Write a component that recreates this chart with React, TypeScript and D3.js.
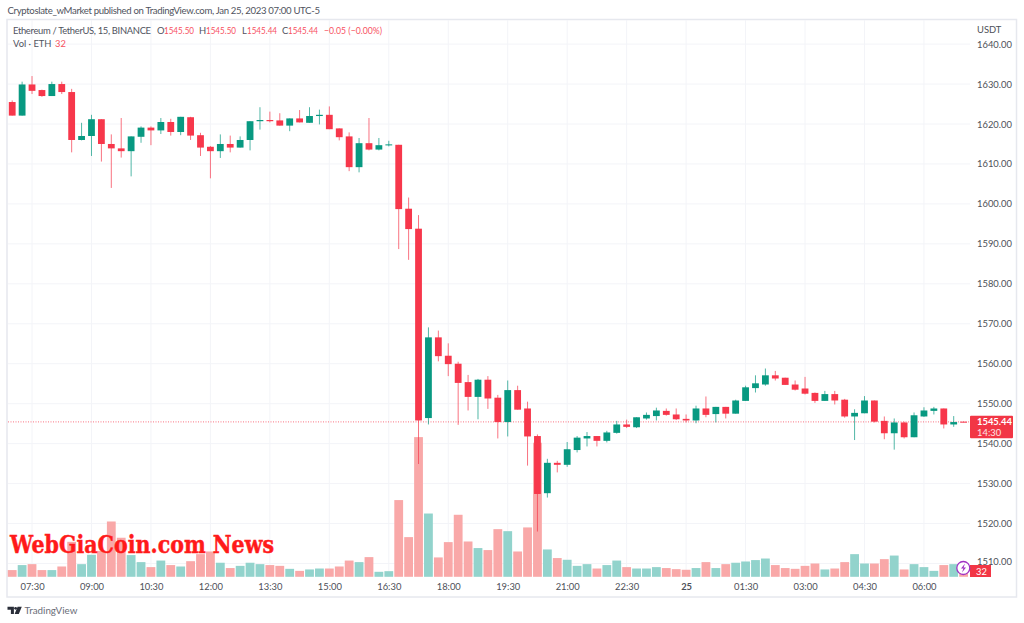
import React, { useRef, useEffect } from 'react';
import * as d3 from 'd3';

// ETHUSDT 15m candles
const opens = [1625.5, 1622.1, 1629.9, 1628.5, 1627, 1630, 1628, 1616, 1617, 1621.2, 1615, 1613.9, 1613.2, 1616.8, 1619.1, 1618.4, 1620.5, 1618, 1621.7, 1617.2, 1614.3, 1613.2, 1615, 1614.1, 1616, 1620.7, 1621, 1620.9, 1619.6, 1621.4, 1620.3, 1622, 1622.3, 1618.9, 1616.9, 1609.2, 1615.2, 1613.6, 1614.7, 1614.8, 1598.8, 1593.8, 1546.4, 1566.6, 1562, 1560, 1555.4, 1551.7, 1556, 1551.5, 1545.4, 1553.4, 1548.8, 1541.9, 1527.6, 1535.2, 1534.7, 1538.4, 1541.3, 1541.9, 1540.7, 1542.7, 1544.8, 1544.1, 1546.3, 1546.9, 1548.2, 1547.3, 1546.2, 1545.8, 1548.8, 1547.4, 1549.2, 1547.5, 1550.7, 1553.9, 1554.8, 1557.1, 1556.5, 1554.8, 1553.8, 1552.7, 1550.7, 1552.4, 1551, 1546.8, 1547.6, 1550.8, 1545.7, 1542.6, 1545.3, 1541.6, 1546.8, 1548.2, 1548.8, 1544.8, 1545.5];
const closes = [1622.1, 1629.9, 1628.3, 1627, 1630, 1628, 1616, 1617, 1621.2, 1615, 1613.9, 1613.2, 1616.9, 1619.1, 1618.4, 1620.5, 1618, 1621.8, 1617.1, 1614.1, 1613.2, 1615, 1614.1, 1616, 1620.7, 1621, 1620.7, 1619.6, 1621.4, 1620.4, 1622, 1622.3, 1618.7, 1616.7, 1609.2, 1615.2, 1613.6, 1614.7, 1614.9, 1598.7, 1593.7, 1545.8, 1566.6, 1561.9, 1559.9, 1555.2, 1551.7, 1556, 1551.3, 1545.4, 1553.4, 1548.5, 1541.8, 1527.4, 1535.2, 1534.7, 1538.6, 1541.5, 1541.9, 1540.7, 1542.8, 1544.8, 1544.2, 1546.6, 1547.2, 1548.3, 1547.2, 1546.1, 1545.8, 1548.8, 1547.2, 1549.2, 1547.5, 1550.8, 1554.1, 1555.1, 1557.1, 1556.3, 1554.7, 1553.5, 1552.5, 1550.7, 1552.4, 1550.8, 1546.8, 1547.7, 1550.8, 1545.5, 1542.6, 1545.3, 1541.6, 1547.1, 1548.3, 1548.8, 1544.8, 1545.4, 1545.44];
const highs = [1625.9, 1630.6, 1632, 1628.6, 1630.6, 1630.6, 1628.8, 1620.3, 1622.3, 1621.2, 1617.4, 1621.5, 1616.9, 1619.4, 1619.4, 1621.5, 1621.3, 1621.8, 1621.8, 1617.8, 1614.5, 1617.4, 1617.1, 1616.9, 1620.7, 1624.2, 1623.1, 1622.7, 1621.4, 1623.5, 1624.2, 1623.6, 1624.4, 1618.9, 1617.9, 1616.5, 1621.5, 1616.5, 1615.8, 1614.8, 1601.6, 1597.2, 1569.1, 1568.3, 1565.1, 1560.5, 1557.2, 1556.2, 1556.9, 1552.2, 1555.8, 1554.5, 1550.5, 1542.3, 1536.2, 1535.7, 1540.4, 1541.9, 1542.9, 1541.9, 1543.2, 1545.7, 1546, 1546.6, 1547.8, 1549, 1548.8, 1548.8, 1547.3, 1549.5, 1551.8, 1549.2, 1549.2, 1551, 1554.5, 1557.1, 1558.8, 1558.2, 1556.5, 1555.8, 1556.7, 1552.8, 1553.2, 1553.2, 1551.2, 1548.6, 1551.9, 1550.8, 1546.8, 1546.3, 1545.5, 1547.8, 1549.1, 1549.2, 1548.8, 1546.9, 1545.5];
const lows = [1622.1, 1622.1, 1627.5, 1626.8, 1627, 1627.5, 1612.9, 1615.9, 1612, 1610.6, 1604, 1611.6, 1606.9, 1615.3, 1614.7, 1617.5, 1617.1, 1617.2, 1616, 1612, 1606.4, 1611.5, 1612.9, 1614.1, 1613.4, 1618.6, 1620.4, 1619.6, 1618.2, 1620.4, 1620.3, 1619.9, 1618.7, 1615.9, 1608.2, 1607.9, 1613.4, 1613.4, 1614.4, 1588.7, 1586, 1534.9, 1544.8, 1560.6, 1556.9, 1544.7, 1548.3, 1546.1, 1548.7, 1541.3, 1541.8, 1548.5, 1534.5, 1518, 1526.5, 1532.8, 1534.2, 1537.8, 1539.3, 1539.3, 1540.3, 1542.5, 1543.9, 1543.9, 1546, 1545.8, 1547, 1545.9, 1545.3, 1545.1, 1546.6, 1545.3, 1546.3, 1547.5, 1550.7, 1552.8, 1554.5, 1555.8, 1554.7, 1553.3, 1552.3, 1550.2, 1550.7, 1549.8, 1546.5, 1540.9, 1547.6, 1545.3, 1541.1, 1538.5, 1541.3, 1541.6, 1546.7, 1547.3, 1543.8, 1544.2, 1545.44];
const volumes = [43, 75, 81, 43, 43, 66, 224, 81, 141, 166, 354, 250, 139, 94, 62, 104, 75, 66, 100, 145, 162, 90, 56, 70, 90, 81, 75, 70, 51, 38, 47, 53, 53, 66, 104, 94, 126, 32, 36, 491, 254, 894, 405, 124, 222, 397, 226, 184, 171, 305, 292, 162, 316, 858, 175, 120, 109, 70, 81, 53, 75, 104, 62, 53, 53, 62, 56, 49, 45, 56, 94, 56, 81, 90, 98, 107, 117, 75, 56, 51, 70, 85, 47, 53, 94, 145, 85, 85, 113, 136, 47, 81, 62, 38, 75, 81, 32];

const priceTicks = [1510, 1520, 1530, 1540, 1550, 1560, 1570, 1580, 1590, 1600, 1610, 1620, 1630, 1640];
const timeTickIndex = [2, 8, 14, 20, 26, 32, 38, 44, 50, 56, 62, 68, 74, 80, 86, 92];
const timeTickLabels = ['07:30', '09:00', '10:30', '12:00', '13:30', '15:00', '16:30', '18:00', '19:30', '21:00', '22:30', '25', '01:30', '03:00', '04:30', '06:00'];
const lastPrice = 1545.44;
const lastVolume = 32;

const UP = '#089981';
const DOWN = '#f7374b';
const FONT = 'Lato, "Noto Sans", sans-serif';

const App = () => {
  const ref = useRef<SVGSVGElement>(null);

  useEffect(() => {
    const svg = d3.select(ref.current);
    svg.selectAll('*').remove();

    const x = d3.scaleLinear().domain([0, 96]).range([12.2, 963.6]);
    const y = d3.scaleLinear().domain([1510, 1640]).range([563.5, 44.1]);
    const vol = d3.scaleLinear().domain([0, 896]).range([576.8, 436.8]);
    const color = (i: number) => (closes[i] >= opens[i] ? UP : DOWN);
    const idx = d3.range(opens.length);

    // frame
    svg.append('rect').attr('x', 7).attr('y', 19.5).attr('width', 1009.5).attr('height', 577.5)
      .attr('fill', '#fff').attr('stroke', '#e6e8ee').attr('stroke-width', 1.5);

    // grid
    svg.append('g').selectAll('line').data(priceTicks).join('line')
      .attr('x1', 8).attr('x2', 970).attr('y1', d => y(d)).attr('y2', d => y(d))
      .attr('stroke', '#f3f4f8');
    svg.append('g').selectAll('line').data(timeTickIndex).join('line')
      .attr('x1', d => x(d)).attr('x2', d => x(d)).attr('y1', 20).attr('y2', 577)
      .attr('stroke', '#f3f4f8');

    // volume
    svg.append('g').selectAll('rect').data(idx).join('rect')
      .attr('x', i => x(i) - 4.4).attr('width', 8.8)
      .attr('y', i => vol(volumes[i])).attr('height', i => vol(0) - vol(volumes[i]))
      .attr('fill', i => (color(i) === UP ? '#92d3cc' : '#f9a8a8'));

    // price line, under the candles
    svg.append('line').attr('x1', 8).attr('x2', 970).attr('y1', y(lastPrice)).attr('y2', y(lastPrice))
      .attr('stroke', DOWN).attr('stroke-opacity', 0.7).attr('stroke-dasharray', '1 1.5');

    // candles
    const candles = svg.append('g');
    candles.selectAll('line').data(idx).join('line')
      .attr('x1', i => x(i)).attr('x2', i => x(i))
      .attr('y1', i => y(highs[i])).attr('y2', i => y(lows[i]))
      .attr('stroke', color).attr('stroke-width', 1).attr('stroke-opacity', 0.7);
    candles.selectAll('rect').data(idx).join('rect')
      .attr('x', i => x(i) - 3.4).attr('width', 6.8)
      .attr('y', i => y(Math.max(opens[i], closes[i])))
      .attr('height', i => Math.max(1, Math.abs(y(opens[i]) - y(closes[i]))))
      .attr('fill', color);

    // axes
    const yAxis = svg.append('g').attr('transform', 'translate(970,0)')
      .call(d3.axisRight(y).tickValues(priceTicks).tickSize(0).tickPadding(7).tickFormat(d => (d as number).toFixed(2)));
    const xAxis = svg.append('g').attr('transform', 'translate(0,577)')
      .call(d3.axisBottom(x).tickValues(timeTickIndex).tickSize(0).tickPadding(6)
        .tickFormat((_, i) => timeTickLabels[i]));
    [yAxis, xAxis].forEach(a => {
      a.select('.domain').remove();
      a.selectAll('text').attr('fill', '#4d5058').style('font-family', FONT).style('font-size', '9.4px');
    });
    xAxis.selectAll('text').filter(d => d === 68).style('font-weight', 700);
    // the volume tag sits over the lowest price label
    yAxis.selectAll('text').filter(d => d === 1510).attr('dy', '0.1em');

    const label = (tx: number, ty: number, s: string, fill: string, size = 9.4, weight = 400) =>
      svg.append('text').attr('x', tx).attr('y', ty).text(s).attr('fill', fill)
        .style('font-family', FONT).style('font-size', `${size}px`).style('font-weight', weight);

    // header and legend
    label(7.5, 14, 'Cryptoslate_wMarket published on TradingView.com, Jan 25, 2023 07:00 UTC-5', '#50535e', 9.6)
      .attr('textLength', 312.5);
    label(13, 34, 'Ethereum / TetherUS, 15, BINANCE', '#50535e', 9.4).attr('textLength', 138);
    const red = '#f7525f';
    [[157, 'O'], [199, 'H'], [242, 'L'], [282, 'C']].forEach(([tx, s]) => label(tx as number, 34, s as string, '#50535e'));
    [[164, '1545.50', 30], [206, '1545.50', 30], [247, '1545.44', 30], [288, '1545.44', 30], [324, '−0.05 (−0.00%)', 58]]
      .forEach(([tx, s, w]) => label(tx as number, 34, s as string, red)
        .attr('textLength', w as number).attr('lengthAdjust', 'spacingAndGlyphs'));
    label(13, 46.5, 'Vol · ETH', '#50535e');
    label(55, 46.5, String(lastVolume), red);
    label(977, 33, 'USDT', '#4d5058');

    // price and volume tags
    svg.append('rect').attr('x', 970).attr('y', 415.7).attr('width', 43).attr('height', 22.6).attr('rx', 1).attr('fill', '#f23645');
    label(977, 425, lastPrice.toFixed(2), '#fff', 9.4, 700);
    label(977, 435.5, '14:30', '#fde3e5', 9.4);
    svg.append('rect').attr('x', 970).attr('y', 565).attr('width', 21).attr('height', 12).attr('fill', '#f23645');
    label(976, 574.5, String(lastVolume), '#fff', 9.4);

    // lightning badge
    svg.append('circle').attr('cx', 963.3).attr('cy', 568).attr('r', 6.5)
      .attr('fill', '#fff').attr('stroke', '#a033c4').attr('stroke-width', 1.3);
    svg.append('path').attr('d', 'M965 563.5l-4 5h2.4l-1.4 4 4-5h-2.4z').attr('fill', '#a033c4');

    // watermark
    label(10, 552.5, 'WebGiaCoin.com News', '#ff1a1a', 25, 700)
      .style('font-family', '"DejaVu Serif", serif')
      .attr('stroke', '#ff1a1a').attr('stroke-width', 0.5)
      .attr('textLength', 264).attr('lengthAdjust', 'spacingAndGlyphs');

    // TradingView logo
    svg.append('path').attr('d', 'M7.5 606.8h6.4v7.2h-3v-4.3h-3.4zM17.6 606.8h4.2l-3 7.2h-4.2z').attr('fill', '#2a2e39');
    svg.append('circle').attr('cx', 15.6).attr('cy', 608.3).attr('r', 1.4).attr('fill', '#2a2e39');
    label(24.5, 613.8, 'TradingView', '#6a6d78', 9.8);
  }, []);

  return (
    <svg ref={ref} width={1024} height={623}
      style={{ position: 'absolute', left: 0, top: 0, background: '#fff' }} />
  );
};

export default App;
